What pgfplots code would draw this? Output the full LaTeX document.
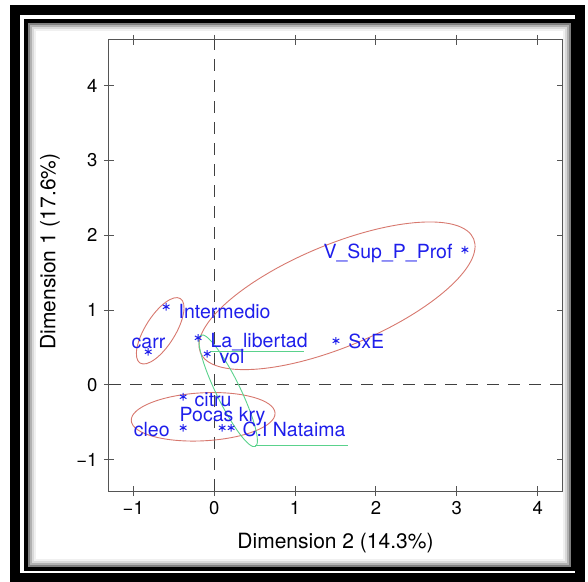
\documentclass[border=0pt]{standalone}
\usepackage{fontspec}
\setmainfont{TeX Gyre Heros}
\usepackage{pgfplots}
\pgfplotsset{compat=1.18}
\definecolor{lblue}{RGB}{30,30,235}
\definecolor{ellred}{RGB}{215,120,110}
\definecolor{ellgreen}{RGB}{90,210,140}
\definecolor{axgray}{RGB}{85,85,85}
\pgfplotsset{
  pt/.style n args={3}{only marks, mark=asterisk, mark size=3.8pt, lblue, line width=1pt,
    nodes near coords, point meta=explicit symbolic,
    every node near coord/.append style={anchor=#1, xshift=#2, yshift=#3, inner sep=0pt,
      font=\fontsize{19.5}{19.5}\selectfont, text=lblue}}
}
\begin{document}
\begin{tikzpicture}
\begin{axis}[
  scale only axis, width=453pt, height=451pt,
  xmin=-1.3, xmax=4.3, ymin=-1.42, ymax=4.61,
  xtick={-1,0,1,2,3,4}, ytick={-1,0,1,2,3,4},
  xticklabels={−1,0,1,2,3,4}, yticklabels={−1,0,1,2,3,4},
  tick align=center, major tick length=10pt,
  axis line style={axgray, line width=1pt},
  every tick/.style={axgray, line width=1pt},
  ticklabel style={font=\fontsize{18.5}{18.5}\selectfont},
  xticklabel style={yshift=-2pt},
  yticklabel style={xshift=-3pt},
  xlabel={Dimension 2 (14.3\%)}, ylabel={Dimension 1 (17.6\%)},
  label style={font=\fontsize{21}{21}\selectfont},
  x label style={at={(axis description cs:0.5,-0.1164)}, anchor=center},
  y label style={at={(axis description cs:-0.1302,0.531)}, anchor=center},
  clip=false,
]
% reference lines
\addplot[black!75, line width=1.2pt, dash pattern=on 12pt off 9pt] coordinates {(0,-1.42) (0,4.61)};
\addplot[black!75, line width=1.2pt, dash pattern=on 12pt off 9pt] coordinates {(-1.3,0) (4.3,0)};
% ellipses
\draw[ellred, line width=0.9pt, rotate around={22.6:(axis cs:1.519,1.19)}] (axis cs:1.519,1.19) ellipse [x radius=148pt, y radius=51pt];
\draw[ellred, line width=0.9pt, rotate around={58:(axis cs:-0.667,0.722)}] (axis cs:-0.667,0.722) ellipse [x radius=38pt, y radius=15pt];
\draw[ellred, line width=0.9pt, rotate around={3:(axis cs:-0.136,-0.428)}] (axis cs:-0.136,-0.428) ellipse [x radius=72pt, y radius=24pt];
\draw[ellgreen, line width=0.9pt, rotate around={-64:(axis cs:0.173,-0.080)}] (axis cs:0.173,-0.080) ellipse [x radius=62pt, y radius=12pt];
\addplot[ellgreen, line width=0.9pt] coordinates {(-0.05,0.441) (1.11,0.441)};
\addplot[ellgreen, line width=0.9pt] coordinates {(0.506,-0.815) (1.654,-0.815)};
% points
\addplot[pt={base west}{12pt}{-11.5pt}] coordinates {(-0.593,1.043) [Intermedio]};
\addplot[pt={base west}{-17pt}{3pt}] coordinates {(-0.815,0.441) [carr]};
\addplot[pt={base west}{12pt}{-10pt}] coordinates {(-0.198,0.628) [La\_libertad]};
\addplot[pt={base west}{12pt}{-10pt}] coordinates {(-0.086,0.414) [vol]};
\addplot[pt={base west}{12pt}{-8pt}] coordinates {(1.506,0.588) [SxE]};
\addplot[pt={base east}{-12pt}{-9pt}] coordinates {(3.10,1.805) [V\_Sup\_P\_Prof]};
\addplot[pt={base west}{11pt}{-10pt}] coordinates {(-0.383,-0.160) [citru]};
\addplot[pt={base east}{-13pt}{-9pt}] coordinates {(-0.383,-0.575) [cleo]};
\addplot[pt={base west}{-43pt}{6pt}] coordinates {(0.099,-0.575) [Pocas kry]};
\addplot[pt={base west}{11pt}{-9pt}] coordinates {(0.21,-0.575) [C.I Nataima]};
\end{axis}
\begin{scope}[xshift=-109pt, yshift=491pt, x=1pt, y=-1pt]
  \path[use as bounding box] (0,0) rectangle (588,581);
  \draw[black, line width=10pt] (15.5,10.5) rectangle (580,577.5);
  \draw[black, line width=4pt] (26,21) rectangle (572.5,568.5);
  \draw[black!50, line width=2pt] (29,24) rectangle (570,566);
  \draw[black!30, line width=2pt] (31,26) rectangle (568,564);
  \draw[black!15, line width=2pt] (33,28) rectangle (566,562);
  \draw[black!6, line width=2pt] (35,30) rectangle (564,560);
\end{scope}
\end{tikzpicture}
\end{document}
